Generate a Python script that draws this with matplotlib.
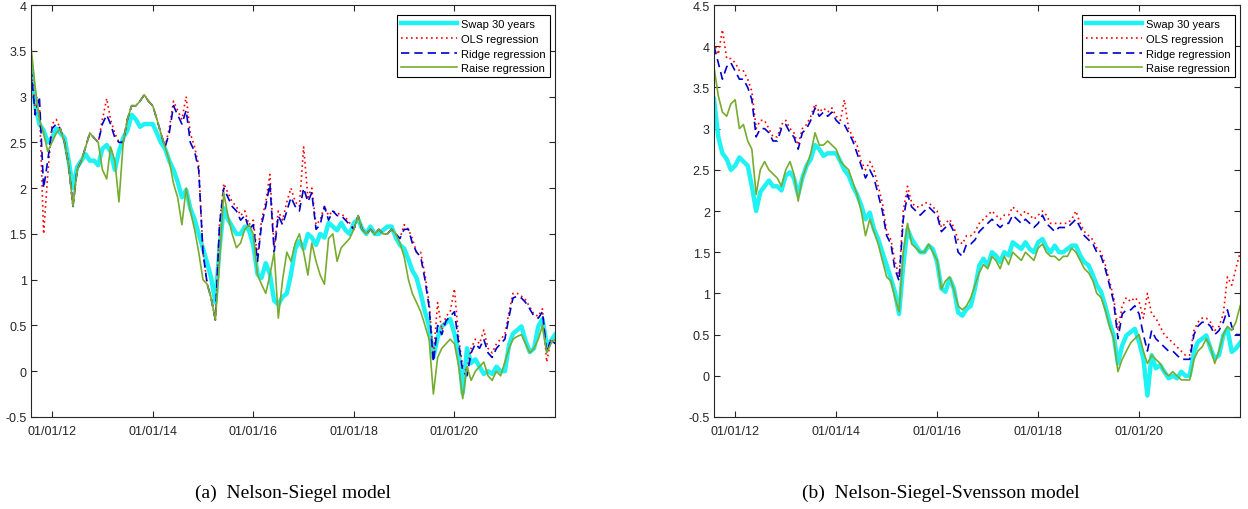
import numpy as np
import pandas as pd
import matplotlib
matplotlib.use("Agg")
import matplotlib.pyplot as plt
import matplotlib.dates as mdates
from matplotlib.ticker import FormatStrFormatter, MultipleLocator

# monthly observations, Aug 2011 .. Jan 2022
dates = pd.date_range("2011-08-01", "2022-01-01", freq="MS")

swap = [3.36, 2.9, 2.7, 2.63, 2.5,
        2.55, 2.65, 2.6, 2.55, 2.3, 2.0, 2.23, 2.3, 2.37, 2.3, 2.3, 2.25,
        2.43, 2.47, 2.4, 2.2, 2.4, 2.55, 2.63, 2.8, 2.75, 2.67, 2.7, 2.7,
        2.7, 2.6, 2.5, 2.43, 2.3, 2.2, 2.07, 1.9, 1.98, 1.78, 1.66, 1.5,
        1.34, 1.18, 1.02, 0.75, 1.34, 1.78, 1.66, 1.58, 1.5, 1.5, 1.58, 1.54,
        1.38, 1.06, 1.02, 1.18, 1.06, 0.77, 0.73, 0.81, 0.85, 1.06, 1.34, 1.42,
        1.34, 1.5, 1.46, 1.38, 1.5, 1.46, 1.62, 1.58, 1.54, 1.62, 1.54, 1.5,
        1.62, 1.66, 1.56, 1.5, 1.58, 1.5, 1.5, 1.54, 1.58, 1.58, 1.46, 1.38,
        1.34, 1.22, 1.1, 1.02, 0.85, 0.65, 0.49, 0.15, 0.37, 0.49, 0.53, 0.57,
        0.41, 0.21, -0.24, 0.25, 0.09, 0.13, 0.05, -0.03, 0.0, -0.03, 0.05, 0.0,
        0.0, 0.29, 0.41, 0.45, 0.49, 0.33, 0.21, 0.25, 0.49, 0.57, 0.29, 0.33,
        0.4]

# (a) Nelson-Siegel
ns_ols = [3.35, 2.85, 2.95, 1.5, 2.15,
          2.7, 2.75, 2.65, 2.5, 2.25, 1.8, 2.2, 2.3, 2.45, 2.6, 2.55, 2.5,
          2.75, 2.98, 2.75, 2.6, 2.5, 2.5, 2.75, 2.9, 2.9, 2.95, 3.02, 2.95,
          2.9, 2.75, 2.6, 2.45, 2.65, 2.95, 2.85, 2.75, 3.0, 2.6, 2.45, 2.25,
          1.3, 0.95, 0.8, 0.56, 1.6, 2.05, 1.95, 1.85, 1.8, 1.7, 1.75, 1.6,
          1.65, 1.25, 1.65, 1.85, 2.15, 1.35, 1.75, 1.65, 1.85, 2.0, 1.85, 1.8,
          2.45, 1.9, 2.0, 1.6, 1.65, 1.8, 1.7, 1.75, 1.72, 1.72, 1.68, 1.62,
          1.55, 1.7, 1.55, 1.5, 1.55, 1.5, 1.55, 1.5, 1.5, 1.55, 1.5, 1.45,
          1.6, 1.55, 1.45, 1.3, 1.3, 1.05, 0.75, 0.15, 0.75, 0.45, 0.6, 0.65,
          0.9, 0.35, 0.05, 0.0, 0.25, 0.35, 0.3, 0.45, 0.25, 0.2, 0.3, 0.35,
          0.4, 0.65, 0.85, 0.85, 0.82, 0.78, 0.7, 0.62, 0.6, 0.68, 0.1, 0.35,
          0.3]
ns_ridge = [3.3, 2.8, 3.0, 2.0, 2.3,
            2.65, 2.7, 2.65, 2.5, 2.25, 1.8, 2.2, 2.3, 2.45, 2.6, 2.55, 2.5,
            2.7, 2.8, 2.7, 2.55, 2.5, 2.5, 2.75, 2.9, 2.9, 2.95, 3.02, 2.95,
            2.9, 2.75, 2.6, 2.45, 2.6, 2.9, 2.8, 2.7, 2.85, 2.5, 2.4, 2.2,
            1.3, 0.95, 0.8, 0.56, 1.6, 2.0, 1.9, 1.8, 1.75, 1.65, 1.7, 1.55,
            1.6, 1.2, 1.6, 1.8, 2.05, 1.3, 1.7, 1.6, 1.75, 1.9, 1.8, 1.75,
            2.0, 1.85, 1.95, 1.55, 1.6, 1.8, 1.65, 1.75, 1.7, 1.7, 1.65, 1.6,
            1.55, 1.7, 1.55, 1.5, 1.55, 1.5, 1.55, 1.5, 1.5, 1.55, 1.5, 1.45,
            1.55, 1.55, 1.4, 1.3, 1.25, 1.0, 0.7, 0.1, 0.5, 0.4, 0.55, 0.6,
            0.65, 0.3, 0.0, -0.05, 0.2, 0.3, 0.25, 0.35, 0.2, 0.15, 0.25, 0.3,
            0.35, 0.6, 0.8, 0.82, 0.8, 0.75, 0.68, 0.6, 0.58, 0.65, 0.2, 0.35,
            0.3]
ns_raise = [3.55, 3.1, 2.75, 2.6, 2.4,
            2.5, 2.6, 2.65, 2.5, 2.25, 1.8, 2.2, 2.3, 2.45, 2.6, 2.55, 2.5,
            2.2, 2.1, 2.45, 2.3, 1.85, 2.5, 2.75, 2.9, 2.9, 2.95, 3.02, 2.95,
            2.9, 2.75, 2.6, 2.45, 2.3, 2.05, 1.9, 1.6, 2.0, 1.75, 1.55, 1.3,
            1.0, 0.95, 0.8, 0.56, 1.2, 1.95, 1.7, 1.5, 1.35, 1.4, 1.55, 1.6,
            1.5, 1.05, 0.95, 0.85, 1.05, 1.3, 0.58, 1.0, 1.3, 1.2, 1.4, 1.5,
            1.3, 1.05, 1.4, 1.2, 1.05, 0.95, 1.45, 1.5, 1.2, 1.35, 1.4, 1.45,
            1.55, 1.7, 1.55, 1.5, 1.55, 1.5, 1.55, 1.5, 1.5, 1.55, 1.5, 1.4,
            1.25, 1.0, 0.85, 0.75, 0.65, 0.5, 0.35, -0.25, 0.15, 0.25, 0.3, 0.35,
            0.3, 0.05, -0.3, 0.05, -0.1, 0.0, 0.05, 0.1, -0.05, -0.1, 0.0, -0.05,
            0.1, 0.25, 0.35, 0.38, 0.4, 0.3, 0.2, 0.25, 0.35, 0.5, 0.2, 0.3,
            0.35]

# (b) Nelson-Siegel-Svensson
nss_ols = [4.05, 3.9, 4.2, 3.85, 3.85,
           3.8, 3.7, 3.7, 3.6, 3.45, 3.0, 3.1, 3.1, 3.0, 2.9, 2.9, 3.05,
           3.1, 3.0, 2.95, 2.8, 3.0, 3.05, 3.15, 3.3, 3.2, 3.25, 3.2, 3.25,
           3.15, 3.1, 3.35, 3.0, 2.9, 2.8, 2.6, 2.5, 2.6, 2.5, 2.3, 2.1,
           1.75, 1.65, 1.4, 1.2, 2.0, 2.3, 2.1, 2.05, 2.05, 2.1, 2.1, 2.05,
           2.0, 1.8, 1.85, 1.9, 1.8, 1.65, 1.6, 1.7, 1.7, 1.75, 1.85, 1.9,
           1.95, 2.0, 1.95, 1.9, 1.95, 1.95, 2.05, 2.0, 1.95, 2.0, 1.95, 1.9,
           1.95, 2.0, 1.95, 1.85, 1.85, 1.85, 1.85, 1.85, 1.9, 2.0, 1.85, 1.75,
           1.7, 1.65, 1.55, 1.5, 1.35, 1.15, 0.95, 0.55, 0.85, 0.95, 0.9, 0.95,
           0.9, 0.7, 1.0, 0.75, 0.7, 0.6, 0.5, 0.45, 0.4, 0.35, 0.3, 0.25,
           0.25, 0.55, 0.65, 0.7, 0.7, 0.65, 0.55, 0.6, 0.75, 1.2, 1.1, 1.3,
           1.5]
nss_ridge = [4.0, 3.8, 3.6, 3.75, 3.8,
             3.7, 3.6, 3.6, 3.5, 3.35, 2.9, 3.0, 3.0, 2.95, 2.85, 2.85, 3.0,
             3.05, 2.95, 2.9, 2.75, 2.95, 3.0, 3.1, 3.25, 3.15, 3.2, 3.15, 3.2,
             3.1, 3.05, 3.05, 2.95, 2.85, 2.7, 2.55, 2.4, 2.5, 2.4, 2.2, 2.0,
             1.7, 1.6, 1.3, 1.15, 1.9, 2.2, 2.05, 2.0, 1.95, 2.0, 2.05, 2.0,
             1.95, 1.75, 1.8, 1.85, 1.75, 1.5, 1.45, 1.6, 1.6, 1.65, 1.75, 1.8,
             1.85, 1.9, 1.85, 1.8, 1.85, 1.85, 1.95, 1.9, 1.85, 1.9, 1.85, 1.8,
             1.85, 1.95, 1.85, 1.8, 1.75, 1.8, 1.8, 1.8, 1.85, 1.9, 1.8, 1.7,
             1.65, 1.6, 1.5, 1.45, 1.3, 1.1, 0.9, 0.45, 0.75, 0.8, 0.8, 0.85,
             0.75, 0.5, 0.3, 0.55, 0.45, 0.4, 0.35, 0.3, 0.3, 0.25, 0.2, 0.2,
             0.2, 0.5, 0.6, 0.65, 0.65, 0.6, 0.5, 0.55, 0.65, 0.8, 0.6, 0.5,
             0.5]
nss_raise = [3.75, 3.4, 3.2, 3.15, 3.3,
             3.35, 3.0, 3.05, 2.85, 2.75, 2.2, 2.5, 2.6, 2.5, 2.45, 2.4, 2.3,
             2.5, 2.6, 2.45, 2.12, 2.4, 2.55, 2.7, 2.95, 2.8, 2.8, 2.85, 2.8,
             2.75, 2.6, 2.55, 2.5, 2.35, 2.2, 2.0, 1.7, 1.9, 1.75, 1.6, 1.4,
             1.2, 1.15, 0.95, 0.78, 1.5, 1.85, 1.6, 1.55, 1.5, 1.5, 1.6, 1.5,
             1.4, 1.05, 1.15, 1.2, 1.05, 0.85, 0.8, 0.85, 0.95, 1.1, 1.25, 1.35,
             1.3, 1.45, 1.4, 1.3, 1.45, 1.35, 1.5, 1.45, 1.4, 1.5, 1.45, 1.4,
             1.55, 1.6, 1.5, 1.45, 1.45, 1.4, 1.45, 1.45, 1.55, 1.5, 1.4, 1.3,
             1.25, 1.15, 1.0, 0.95, 0.8, 0.6, 0.45, 0.05, 0.2, 0.3, 0.4, 0.45,
             0.5, 0.3, 0.15, 0.25, 0.2, 0.15, 0.05, 0.0, 0.05, 0.0, -0.05, -0.05,
             -0.05, 0.2, 0.3, 0.35, 0.45, 0.35, 0.15, 0.3, 0.5, 0.6, 0.55, 0.65,
             0.85]

labels = ["Swap 30 years", "OLS regression", "Ridge regression", "Raise regression"]
captions = ["(a)  Nelson-Siegel model", "(b)  Nelson-Siegel-Svensson model"]

plt.rcParams["font.family"] = ["Liberation Sans", "DejaVu Sans"]

fig = plt.figure(figsize=(12.48, 5.10), dpi=100)
ax1 = fig.add_axes([0.0248, 0.1804, 0.4199, 0.8078])
ax2 = fig.add_axes([0.5721, 0.1804, 0.4215, 0.8078])


def draw(ax, ols, ridge, raise_, ymax):
    ax.plot(dates, swap, color="#1ef2f2", lw=3.2, label=labels[0])
    ax.plot(dates, ols, color="red", lw=1.2, ls=(0, (1, 2)), label=labels[1])
    ax.plot(dates, ridge, color="#0000cc", lw=1.2, ls=(0, (5, 3)), label=labels[2])
    ax.plot(dates, raise_, color="#77ac30", lw=1.2, label=labels[3])
    ax.set_xlim(pd.Timestamp("2011-08-01"), pd.Timestamp("2021-12-31"))
    ax.set_ylim(-0.5, ymax)
    ax.yaxis.set_major_locator(MultipleLocator(0.5))
    ax.yaxis.set_major_formatter(FormatStrFormatter("%g"))
    ax.xaxis.set_major_locator(mdates.YearLocator(2))
    ax.xaxis.set_major_formatter(mdates.DateFormatter("%d/%m/%y"))
    ax.tick_params(direction="in", length=4, width=0.8, top=True, right=True,
                   labelsize=9, colors="#262626", pad=3)
    ax.tick_params(axis="x", pad=6)
    for s in ax.spines.values():
        s.set_color("#262626")
        s.set_linewidth(0.8)
    leg = ax.legend(loc="upper right", bbox_to_anchor=(0.99, 0.975), fontsize=8,
                    frameon=True, fancybox=False, edgecolor="black", framealpha=1,
                    borderpad=0.35, handlelength=5.0, handletextpad=0.4,
                    labelspacing=0.42, borderaxespad=0.0)
    leg.get_frame().set_linewidth(0.8)


draw(ax1, ns_ols, ns_ridge, ns_raise, 4.0)
draw(ax2, nss_ols, nss_ridge, nss_raise, 4.5)

fig.text(0.235, 0.033, captions[0], ha="center", va="center",
         family="Liberation Serif", fontsize=14)
fig.text(0.754, 0.033, captions[1], ha="center", va="center",
         family="Liberation Serif", fontsize=14)

fig.savefig("out.png", dpi=100)
